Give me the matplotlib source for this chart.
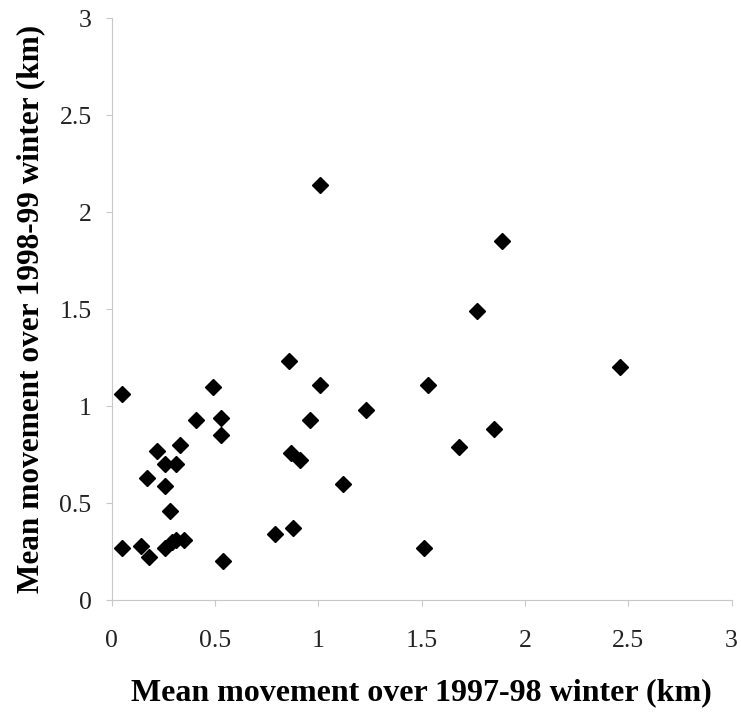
import matplotlib
matplotlib.use("Agg")
import matplotlib.pyplot as plt

# mean movement (km) per animal
move_9798 = [0.05, 0.49, 0.86, 1.01, 0.41, 0.53, 0.96, 0.53, 0.22, 0.33,
             0.26, 0.31, 0.87, 0.91, 0.17, 0.26, 1.12, 0.28, 0.79, 0.88,
             0.05, 0.14, 0.18, 0.26, 0.29, 0.31, 0.35, 0.54, 1.01, 1.89,
             1.77, 1.53, 1.23, 1.85, 1.68, 1.51, 2.46]
move_9899 = [1.06, 1.10, 1.23, 1.11, 0.93, 0.94, 0.93, 0.85, 0.77, 0.80,
             0.70, 0.70, 0.76, 0.72, 0.63, 0.59, 0.60, 0.46, 0.34, 0.37,
             0.27, 0.28, 0.22, 0.27, 0.30, 0.31, 0.31, 0.20, 2.14, 1.85,
             1.49, 1.11, 0.98, 0.88, 0.79, 0.27, 1.20]

ticks = [0, 0.5, 1, 1.5, 2, 2.5, 3]
tick_labels = ["0", "0.5", "1", "1.5", "2", "2.5", "3"]

plt.rcParams['font.family'] = ['Liberation Serif', 'DejaVu Serif']

fig = plt.figure(figsize=(7.41, 7.12), dpi=100)
ax = fig.add_axes([0.1507, 0.1573, 0.8365, 0.8174])

ax.plot(move_9798, move_9899, linestyle='none', marker='D', markersize=8.5,
        color='black', markeredgecolor='black')

ax.set_xlim(0, 3)
ax.set_ylim(0, 3)
ax.set_xticks(ticks)
ax.set_xticklabels(tick_labels)
ax.set_yticks(ticks)
ax.set_yticklabels(tick_labels)
ax.tick_params(labelsize=18.5, color='#c8c8c8', length=4.5, width=0.8,
               labelcolor='#222222')
ax.tick_params(axis='x', pad=17)
ax.tick_params(axis='y', pad=10)

for side in ['top', 'right']:
    ax.spines[side].set_visible(False)
for side in ['left', 'bottom']:
    ax.spines[side].set_color('#c8c8c8')
    ax.spines[side].set_linewidth(0.8)

ax.set_xlabel("Mean movement over 1997-98 winter (km)", fontsize=23,
              fontweight='bold', labelpad=19)
ax.set_ylabel("Mean movement over 1998-99 winter (km)", fontsize=22.5,
              fontweight='bold', labelpad=10)

fig.savefig("out.png", dpi=100, facecolor='white')
